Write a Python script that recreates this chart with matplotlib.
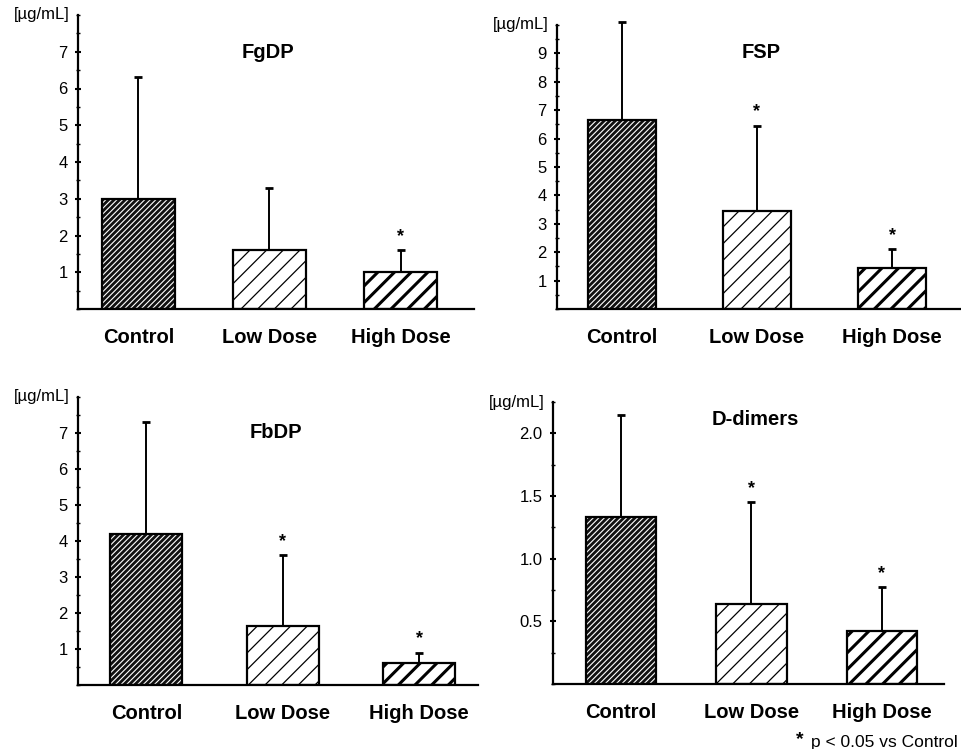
import matplotlib
matplotlib.use('Agg')
import matplotlib.pyplot as plt
from matplotlib.ticker import MultipleLocator

# --- data ---
groups = ['Control', 'Low Dose', 'High Dose']
titles = ['FgDP', 'FSP', 'FbDP', 'D-dimers']

fgdp_mean = [3.0, 1.6, 1.0]
fgdp_sd = [3.3, 1.7, 0.6]
fsp_mean = [6.65, 3.45, 1.45]
fsp_sd = [3.45, 3.0, 0.65]
fbdp_mean = [4.2, 1.65, 0.6]
fbdp_sd = [3.1, 1.95, 0.3]
ddim_mean = [1.33, 0.64, 0.42]
ddim_sd = [0.82, 0.81, 0.35]

fgdp_sig = [False, False, True]
fsp_sig = [False, True, True]
fbdp_sig = [False, True, True]
ddim_sig = [False, True, True]

fgdp_ticks = [1, 2, 3, 4, 5, 6, 7]
fsp_ticks = [1, 2, 3, 4, 5, 6, 7, 8, 9]
fbdp_ticks = [1, 2, 3, 4, 5, 6, 7]
ddim_ticks = [0.5, 1.0, 1.5, 2.0]
ddim_ticklabels = ['0.5', '1.0', '1.5', '2.0']

unit_label = '[\u00b5g/mL]'
footnote = 'p < 0.05 vs Control'

plt.rcParams['font.family'] = ['Liberation Sans', 'DejaVu Sans']

W, H = 961, 749
fig = plt.figure(figsize=(W / 100, H / 100), dpi=100)


def px_axes(left, right, top, base):
    return fig.add_axes([left / W, 1 - base / H, (right - left) / W, (base - top) / H])


# (left, right, top, baseline) in pixels, xlim, ylim, bar width
panels = [
    dict(box=(78, 474, 15, 309), xlim=(-0.46, 2.56), ylim=(0, 8), width=0.56,
         mean=fgdp_mean, sd=fgdp_sd, sig=fgdp_sig, ticks=fgdp_ticks, labels=None,
         minor=0.5, title=titles[0], tpos=(268, 53)),
    dict(box=(557, 961, 25, 309), xlim=(-0.48, 2.51), ylim=(0, 10), width=0.5,
         mean=fsp_mean, sd=fsp_sd, sig=fsp_sig, ticks=fsp_ticks, labels=None,
         minor=0.5, title=titles[1], tpos=(761, 53)),
    dict(box=(78, 478, 397, 685), xlim=(-0.5, 2.43), ylim=(0, 8), width=0.53,
         mean=fbdp_mean, sd=fbdp_sd, sig=fbdp_sig, ticks=fbdp_ticks, labels=None,
         minor=0.5, title=titles[2], tpos=(276, 432)),
    dict(box=(553, 944, 402, 684), xlim=(-0.52, 2.475), ylim=(0, 2.25), width=0.54,
         mean=ddim_mean, sd=ddim_sd, sig=ddim_sig, ticks=ddim_ticks, labels=ddim_ticklabels,
         minor=0.25, title=titles[3], tpos=(755, 419)),
]

x = [0, 1, 2]
for p in panels:
    ax = px_axes(*p['box'])
    w = p['width']

    # control: dark bar with fine white hatching
    with plt.rc_context({'hatch.linewidth': 0.8}):
        b0 = ax.bar(x[0], p['mean'][0], width=w, color='#111111', edgecolor='white',
                    linewidth=0, hatch='//////', zorder=2)
    # low dose: thin sparse hatching
    with plt.rc_context({'hatch.linewidth': 0.9}):
        b1 = ax.bar(x[1], p['mean'][1], width=w, color='white', edgecolor='black',
                    linewidth=0, hatch='//', zorder=2)
    # high dose: heavy hatching
    with plt.rc_context({'hatch.linewidth': 2.2}):
        b2 = ax.bar(x[2], p['mean'][2], width=w, color='white', edgecolor='black',
                    linewidth=0, hatch='//', zorder=2)
    for bars, lw in [(b0, 0.8), (b1, 0.9), (b2, 2.2)]:
        for r in bars:
            if hasattr(r, 'set_hatch_linewidth'):
                r.set_hatch_linewidth(lw)
    ax.bar(x, p['mean'], width=w, fill=False, edgecolor='black', linewidth=1.6, zorder=3)

    # upper error bars only
    ax.errorbar(x, p['mean'], yerr=[[0, 0, 0], p['sd']], fmt='none', ecolor='black',
                elinewidth=1.4, capsize=3, capthick=2, zorder=1, clip_on=False)

    for xi, m, s, flag in zip(x, p['mean'], p['sd'], p['sig']):
        if flag:
            ax.annotate('*', (xi, m + s), xytext=(0, 4), textcoords='offset points',
                        ha='center', va='bottom', fontsize=13, fontweight='bold')

    ax.set_xlim(*p['xlim'])
    ax.set_ylim(*p['ylim'])
    ax.set_xticks(x)
    ax.set_xticklabels(groups, fontsize=14.5, fontweight='bold')
    ax.tick_params(axis='x', length=0, pad=14)
    ax.set_yticks(p['ticks'])
    if p['labels']:
        ax.set_yticklabels(p['labels'])
    ax.yaxis.set_minor_locator(MultipleLocator(p['minor']))
    ax.tick_params(axis='y', which='major', direction='inout', length=5, width=1.5,
                   labelsize=12, pad=5)
    ax.tick_params(axis='y', which='minor', direction='inout', length=3, width=1)

    for side in ['top', 'right']:
        ax.spines[side].set_visible(False)
    ax.spines['left'].set_linewidth(1.6)
    ax.spines['bottom'].set_linewidth(1.6)

    ax.annotate(unit_label, (0, 1), xycoords='axes fraction', xytext=(-6, 0),
                textcoords='offset points', ha='right', va='center', fontsize=12)

    fig.text(p['tpos'][0] / W, 1 - p['tpos'][1] / H, p['title'], ha='center', va='center',
             fontsize=14.5, fontweight='bold')

fig.text(800 / W, 1 - 740 / H, '*', ha='center', va='center', fontsize=14, fontweight='bold')
fig.text(958 / W, 1 - 742 / H, footnote, ha='right', va='center', fontsize=12.5)

plt.savefig('out.png', dpi=100)
